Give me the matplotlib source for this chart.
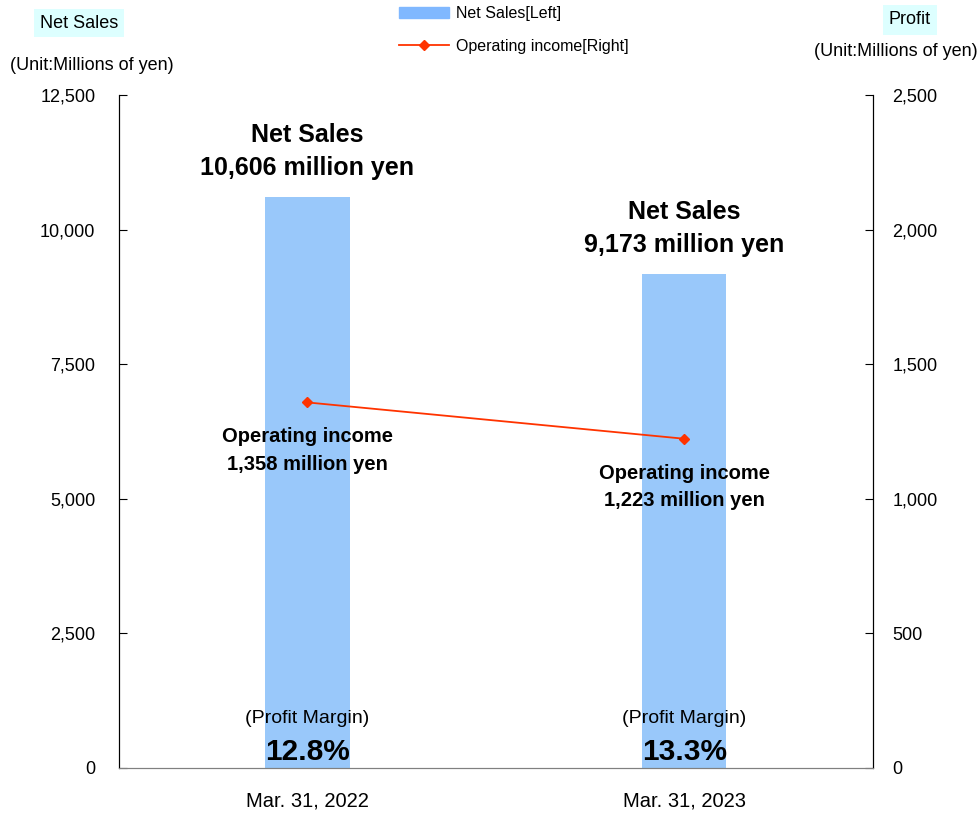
import matplotlib.pyplot as plt
from matplotlib.lines import Line2D
from matplotlib.patches import Patch

plt.rcParams["font.family"] = ["Liberation Sans", "DejaVu Sans"]

periods = ["Mar. 31, 2022", "Mar. 31, 2023"]
net_sales = [10606, 9173]
op_income = [1358, 1223]
margins = ["12.8%", "13.3%"]

bar_color = "#99C8FA"
line_color = "#FF3300"

fig = plt.figure(figsize=(9.77, 8.13), dpi=100)
ax = fig.add_axes([0.1218, 0.0554, 0.7717, 0.8277])
ax2 = ax.twinx()

x = range(len(periods))
ax.bar(x, net_sales, width=0.223, color=bar_color, zorder=1)
ax2.plot(x, op_income, color=line_color, marker="D", markersize=5, linewidth=1.3)

ax.set_xlim(-0.5, 1.5)
ax.set_ylim(0, 12500)
ax2.set_ylim(0, 2500)
ax.set_yticks(range(0, 12501, 2500))
ax2.set_yticks(range(0, 2501, 500))
ax.yaxis.set_major_formatter(lambda v, p: f"{v:,.0f}")
ax2.yaxis.set_major_formatter(lambda v, p: f"{v:,.0f}")
ax.set_xticks(list(x))
ax.set_xticklabels(periods)

for a in (ax, ax2):
    a.spines["top"].set_visible(False)
    a.spines["bottom"].set_color("#808080")
    a.tick_params(axis="y", direction="in", length=6, labelsize=13)
ax.tick_params(axis="y", pad=17)
ax2.tick_params(axis="y", pad=14)
ax.tick_params(axis="x", length=0, labelsize=14.5, pad=17)

for i, v in enumerate(net_sales):
    ax.annotate(f"Net Sales\n{v:,} million yen", (i, v), xytext=(0, 12),
                textcoords="offset points", ha="center", va="bottom",
                fontsize=18, fontweight="bold", linespacing=1.5)

for i, v in enumerate(op_income):
    ax2.annotate(f"Operating income\n{v:,} million yen", (i, v), xytext=(0, -18),
                 textcoords="offset points", ha="center", va="top",
                 fontsize=14.5, fontweight="bold", linespacing=1.55)

for i, m in enumerate(margins):
    ax.text(i, 0.073, "(Profit Margin)", transform=ax.get_xaxis_transform(),
            ha="center", va="center", fontsize=14)
    ax.text(i, 0.024, m, transform=ax.get_xaxis_transform(),
            ha="center", va="center", fontsize=21.5, fontweight="bold")

# axis titles
fig.text(79 / 977, 1 - 23 / 813, "Net Sales", ha="center", va="center", fontsize=13,
         bbox=dict(boxstyle="square,pad=0.3", fc="#DDFFFF", ec="none"))
fig.text(92 / 977, 1 - 66 / 813, "(Unit:Millions of yen)", ha="center", va="center", fontsize=13)
fig.text(910 / 977, 1 - 20 / 813, "Profit", ha="center", va="center", fontsize=13,
         bbox=dict(boxstyle="square,pad=0.35", fc="#DDFFFF", ec="none"))
fig.text(896 / 977, 1 - 52 / 813, "(Unit:Millions of yen)", ha="center", va="center", fontsize=13)

handles = [Patch(color="#80B8FF"),
           Line2D([], [], color=line_color, marker="D", markersize=5, linewidth=1.3)]
fig.legend(handles, ["Net Sales[Left]", "Operating income[Right]"],
           loc="upper left", bbox_to_anchor=(385 / 977, 1.01), frameon=False,
           fontsize=11.5, handlelength=3.1, labelspacing=1.1, handletextpad=0.45)

fig.savefig("out.png", dpi=100)
